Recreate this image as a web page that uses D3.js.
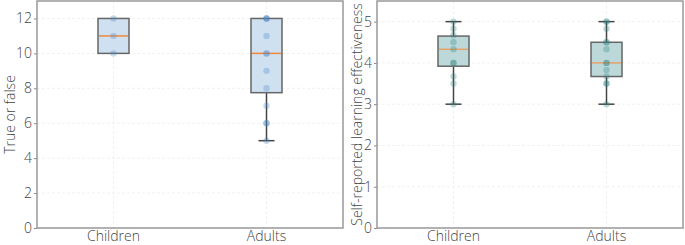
<!DOCTYPE html>
<html>
<head>
<meta charset="utf-8">
<script src="https://cdn.jsdelivr.net/npm/d3@7"></script>
<style>
  body { margin: 0; background: #fff; }
  text { font-family: "Open Sans", "Noto Sans", sans-serif; font-weight: 300; fill: #444; }
</style>
</head>
<body>
<div id="chart"></div>
<script>
const groups = ["Children", "Adults"];

// left panel: true/false score
const tfTicks = [0, 2, 4, 6, 8, 10, 12];
const tfPoints = [
    [10, 11, 12],
    [5, 6, 6, 7, 8, 9, 10, 10, 11, 12, 12, 12]
];
const tfQ1 = [10, 7.75];
const tfMedian = [11, 10];
const tfQ3 = [12, 12];
const tfLow = [10, 5];
const tfHigh = [12, 12];

// right panel: self-reported effectiveness
const effTicks = [0, 1, 2, 3, 4, 5];
const effPoints = [
    [3, 3.5, 3.67, 4, 4, 4.33, 4.5, 4.67, 4.83, 5],
    [3, 3.5, 3.5, 3.67, 3.83, 4, 4, 4.33, 4.5, 4.5, 4.83, 5, 5]
];
const effQ1 = [3.92, 3.67];
const effMedian = [4.33, 4.0];
const effQ3 = [4.65, 4.5];
const effLow = [3, 3];
const effHigh = [5, 5];

const svg = d3.select("#chart")
    .append("svg")
    .attr("width", 685)
    .attr("height", 245);

function drawPanel(opts) {
    const { left, right, top, bottom, yMax, ticks, points, q1, med, q3, lo, hi, label,
        labelX, fill, dot, medColor } = opts;

    const x = d3.scaleBand().domain(groups).range([left, right]).padding(0);
    const y = d3.scaleLinear().domain([0, yMax]).range([bottom, top]);
    const cx = g => x(g) + x.bandwidth() / 2;
    const g = svg.append("g");

    // grid
    g.selectAll(".hgrid")
        .data(ticks)
        .join("line")
        .attr("x1", left).attr("x2", right)
        .attr("y1", d => y(d)).attr("y2", d => y(d))
        .attr("stroke", "#f1f1f1")
        .attr("stroke-dasharray", "3,2");
    g.selectAll(".vgrid")
        .data(groups)
        .join("line")
        .attr("x1", cx).attr("x2", cx)
        .attr("y1", top).attr("y2", bottom)
        .attr("stroke", "#f1f1f1")
        .attr("stroke-dasharray", "3,2");

    // axes
    const yAxis = g.append("g")
        .attr("transform", `translate(${left},0)`)
        .call(d3.axisLeft(y).tickValues(ticks).tickFormat(d3.format("d")).tickSize(3).tickPadding(2));
    yAxis.select(".domain").remove();
    yAxis.selectAll("line").attr("stroke", "#888");
    yAxis.selectAll("text").style("font-size", "14px").attr("fill", "#444");

    const xAxis = g.append("g")
        .attr("transform", `translate(0,${bottom})`)
        .call(d3.axisBottom(x).tickSize(0).tickPadding(3));
    xAxis.select(".domain").remove();
    xAxis.selectAll("text").style("font-size", "14px").attr("fill", "#444");

    // frame
    g.append("rect")
        .attr("x", left).attr("y", top)
        .attr("width", right - left).attr("height", bottom - top)
        .attr("fill", "none")
        .attr("stroke", "#999")
        .attr("stroke-width", 1.5);

    // y label
    g.append("text")
        .attr("transform", `translate(${labelX},${(top + bottom) / 2}) rotate(-90)`)
        .attr("text-anchor", "middle")
        .style("font-size", "14px")
        .text(label);

    const bw = 31;
    const idx = groups.map((d, i) => i);

    // whiskers
    idx.forEach(i => {
        const c = cx(groups[i]);
        if (lo[i] < q1[i]) {
            g.append("line").attr("x1", c).attr("x2", c)
                .attr("y1", y(q1[i])).attr("y2", y(lo[i]))
                .attr("stroke", "#444").attr("stroke-width", 1.5);
            g.append("line").attr("x1", c - 8).attr("x2", c + 8)
                .attr("y1", y(lo[i])).attr("y2", y(lo[i]))
                .attr("stroke", "#444").attr("stroke-width", 1.5);
        }
        if (hi[i] > q3[i]) {
            g.append("line").attr("x1", c).attr("x2", c)
                .attr("y1", y(q3[i])).attr("y2", y(hi[i]))
                .attr("stroke", "#444").attr("stroke-width", 1.5);
            g.append("line").attr("x1", c - 8).attr("x2", c + 8)
                .attr("y1", y(hi[i])).attr("y2", y(hi[i]))
                .attr("stroke", "#444").attr("stroke-width", 1.5);
        }
    });

    // boxes
    g.selectAll(".box")
        .data(idx)
        .join("rect")
        .attr("x", i => cx(groups[i]) - bw / 2)
        .attr("y", i => y(q3[i]))
        .attr("width", bw)
        .attr("height", i => y(q1[i]) - y(q3[i]))
        .attr("fill", fill)
        .attr("stroke", "#666")
        .attr("stroke-width", 1.5);

    g.selectAll(".med")
        .data(idx)
        .join("line")
        .attr("x1", i => cx(groups[i]) - bw / 2 + 1)
        .attr("x2", i => cx(groups[i]) + bw / 2 - 1)
        .attr("y1", i => y(med[i]))
        .attr("y2", i => y(med[i]))
        .attr("stroke", medColor)
        .attr("stroke-width", 1.5);

    // points
    const pts = [];
    points.forEach((arr, i) => arr.forEach(v => pts.push({ g: groups[i], v })));
    g.selectAll(".pt")
        .data(pts)
        .join("circle")
        .attr("cx", d => cx(d.g))
        .attr("cy", d => y(d.v))
        .attr("r", 3.2)
        .attr("fill", dot)
        .attr("fill-opacity", 0.3);
}

drawPanel({
    left: 37, right: 343, top: 1, bottom: 228, yMax: 13,
    ticks: tfTicks, points: tfPoints,
    q1: tfQ1, med: tfMedian, q3: tfQ3, lo: tfLow, hi: tfHigh,
    label: "True or false", labelX: 15,
    fill: "#cfe0f1", dot: "#4a86c8", medColor: "#f0883a"
});

drawPanel({
    left: 377, right: 683, top: 1, bottom: 228, yMax: 5.5,
    ticks: effTicks, points: effPoints,
    q1: effQ1, med: effMedian, q3: effQ3, lo: effLow, hi: effHigh,
    label: "Self-reported learning effectiveness", labelX: 362,
    fill: "#bcd8d8", dot: "#2f8080", medColor: "#e6a36a"
});
</script>
</body>
</html>
